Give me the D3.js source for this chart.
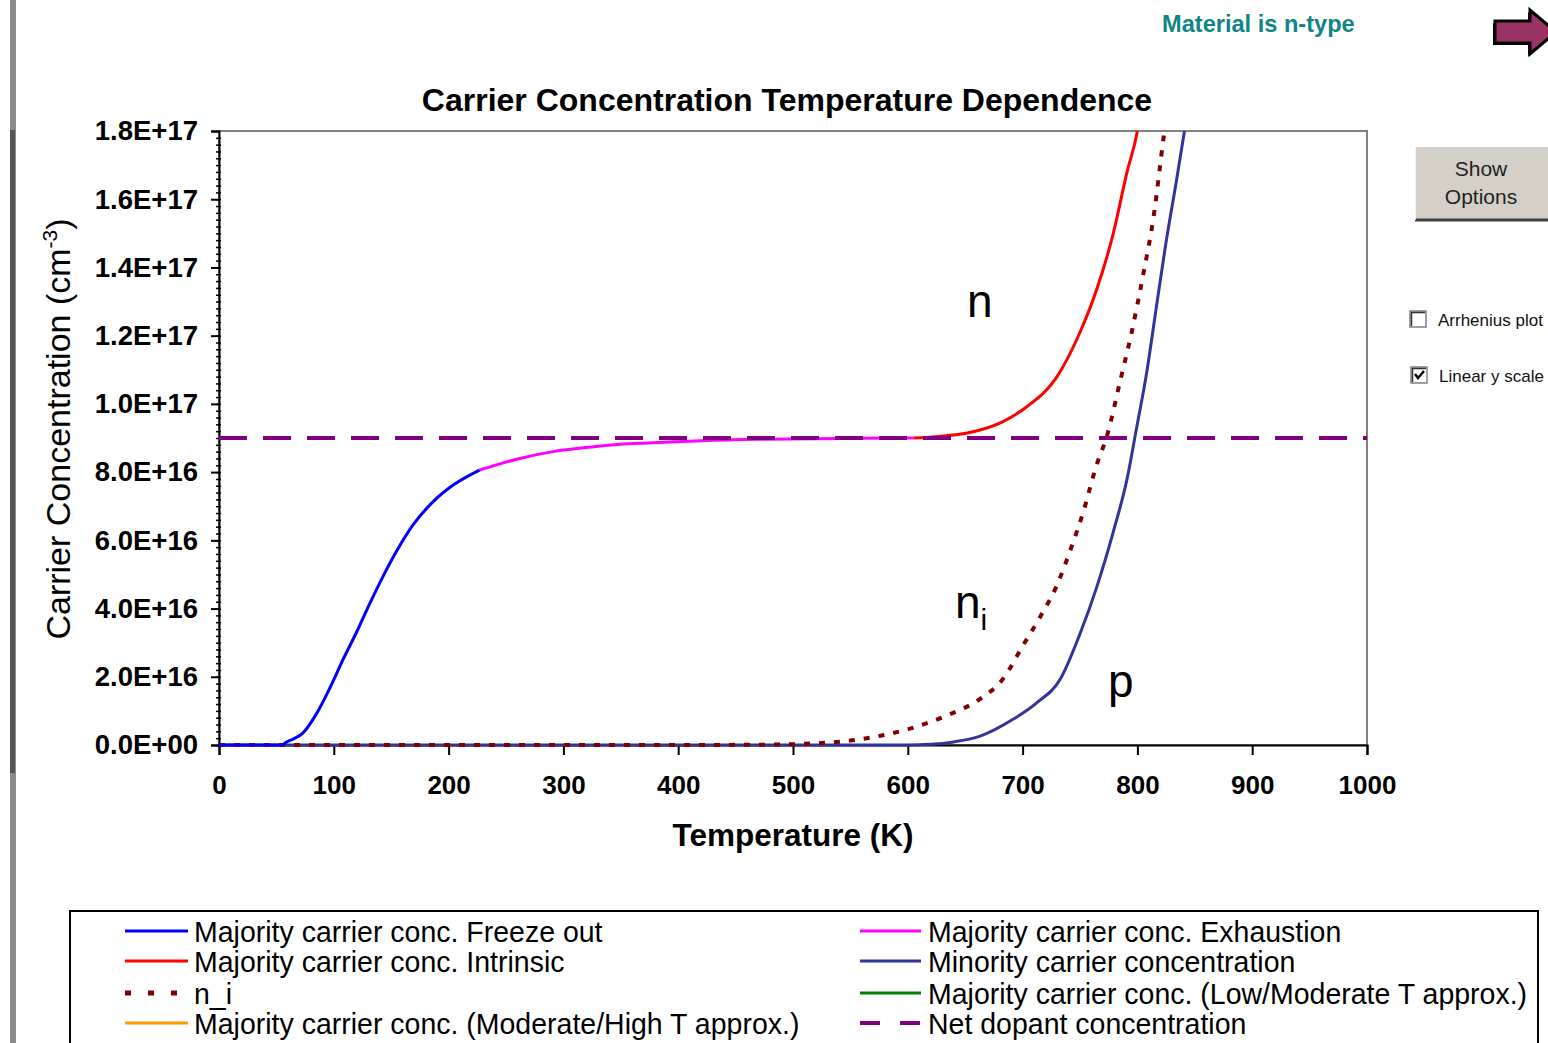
<!DOCTYPE html>
<html>
<head>
<meta charset="utf-8">
<script src="https://cdn.jsdelivr.net/npm/d3@7"></script>
<style>
  body { margin: 0; background: #fff; }
  svg { display: block; font-family: "Liberation Sans", Arial, sans-serif; }
</style>
</head>
<body>
<svg id="chart" width="1548" height="1043"></svg>
<script>
// values (T in K, concentrations in cm^-3)
const freezeT = [0, 20, 40, 55, 58, 65, 73, 85, 97, 108, 120, 131, 143, 155, 169, 187, 204, 227];
const freezeN = [0, 0, 0, 0, 0.7e15, 1.8e15, 3.5e15, 9.2e15, 1.7e16, 2.5e16, 3.32e16, 4.12e16, 4.95e16, 5.7e16, 6.45e16, 7.15e16, 7.62e16, 8.06e16];

const exhaustT = [227, 262, 291, 320, 349, 378, 420, 470, 520, 560, 605];
const exhaustN = [8.06e16, 8.4e16, 8.6e16, 8.72e16, 8.82e16, 8.86e16, 8.92e16, 8.96e16, 8.98e16, 8.99e16, 9.0e16];

const intrinsicT = [605, 625, 654, 683, 703, 730, 750, 764, 779, 791, 800, 810];
const intrinsicN = [9.0e16, 9.04e16, 9.16e16, 9.48e16, 9.9e16, 1.08e17, 1.21e17, 1.33e17, 1.5e17, 1.68e17, 1.8e17, 2.05e17];

const niT = [0, 100, 200, 300, 400, 480, 506, 530, 550, 576, 605, 634, 663, 683, 700, 715, 730, 741, 753, 764, 774, 785, 795, 805, 814, 823, 830];
const niN = [0, 0, 0, 0, 0, 0.1e15, 0.3e15, 0.7e15, 1.3e15, 2.7e15, 5.1e15, 8.65e15, 1.35e16, 1.94e16, 2.9e16, 3.74e16, 4.69e16, 5.66e16, 6.85e16, 8.16e16, 9.12e16, 1.067e17, 1.21e17, 1.378e17, 1.546e17, 1.785e17, 1.95e17];

const minorityT = [0, 200, 400, 600, 620, 640, 663, 692, 712, 733, 750, 764, 779, 791, 799, 808, 817, 825, 834, 841, 850];
const minorityN = [0, 0, 0, 0, 0.2e15, 0.9e15, 2.6e15, 7.6e15, 1.23e16, 1.94e16, 3.26e16, 4.57e16, 6.25e16, 7.8e16, 9.24e16, 1.09e17, 1.295e17, 1.475e17, 1.654e17, 1.8e17, 2.0e17];

const dopantT = [0, 1000];
const dopantN = [9.0e16, 9.0e16];

const xTicks = [0, 100, 200, 300, 400, 500, 600, 700, 800, 900, 1000];
const yTicks = [0, 2e16, 4e16, 6e16, 8e16, 1e17, 1.2e17, 1.4e17, 1.6e17, 1.8e17];

const legendLeft = ["Majority carrier conc. Freeze out", "Majority carrier conc. Intrinsic", "n_i", "Majority carrier conc. (Moderate/High T approx.)"];
const legendRight = ["Majority carrier conc. Exhaustion", "Minority carrier concentration", "Majority carrier conc. (Low/Moderate T approx.)", "Net dopant concentration"];

const svg = d3.select("#chart");

const margin = {left: 219, top: 131, right: 1367, bottom: 745};
const x = d3.scaleLinear().domain([0, 1000]).range([margin.left, margin.right]);
const y = d3.scaleLinear().domain([0, 1.8e17]).range([margin.bottom, margin.top]);

function fmtE(v) {
  const [m, e] = d3.format(".1e")(v).split("e");
  return m + "E" + e[0] + e.slice(1).padStart(2, "0");
}

// window chrome on the left
svg.append("rect").attr("x", 10).attr("y", 0).attr("width", 6).attr("height", 1043).attr("fill", "#8c8c8c");
svg.append("rect").attr("x", 10).attr("y", 130).attr("width", 5).attr("height", 643).attr("fill", "#555");

// top-right status + arrow
svg.append("text").attr("x", 1162).attr("y", 32)
  .attr("font-size", 23.6).attr("font-weight", "bold").attr("fill", "#0f8585")
  .text("Material is n-type");

svg.append("path")
  .attr("d", "M1495,21 L1530,21 L1530,10 L1556,32 L1530,54 L1530,43 L1495,43 Z")
  .attr("fill", "#000").attr("transform", "translate(-2,2)");
svg.append("path")
  .attr("d", "M1495,21 L1530,21 L1530,10 L1556,32 L1530,54 L1530,43 L1495,43 Z")
  .attr("fill", "#993366").attr("stroke", "#000").attr("stroke-width", 3);

// Show Options button
svg.append("rect").attr("x", 1415).attr("y", 147).attr("width", 140).attr("height", 73).attr("fill", "#d4d0c8");
svg.append("line").attr("x1", 1415).attr("x2", 1555).attr("y1", 220).attr("y2", 220).attr("stroke", "#404040").attr("stroke-width", 3);
svg.append("line").attr("x1", 1415).attr("x2", 1415).attr("y1", 147).attr("y2", 220).attr("stroke", "#fff").attr("stroke-width", 1.5);
svg.append("text").attr("x", 1481).attr("y", 176).attr("text-anchor", "middle").attr("font-size", 21).attr("fill", "#222").text("Show");
svg.append("text").attr("x", 1481).attr("y", 204).attr("text-anchor", "middle").attr("font-size", 21).attr("fill", "#222").text("Options");

// checkboxes
function checkbox(bx, by, label, checked) {
  svg.append("rect").attr("x", bx).attr("y", by).attr("width", 16).attr("height", 16)
    .attr("fill", "#fff").attr("stroke", "#808080").attr("stroke-width", 1.5);
  svg.append("path").attr("d", `M${bx + 1.5},${by + 15} L${bx + 1.5},${by + 1.5} L${bx + 15},${by + 1.5}`)
    .attr("fill", "none").attr("stroke", "#333").attr("stroke-width", 1.5);
  if (checked) {
    svg.append("path").attr("d", `M${bx + 4},${by + 7} L${bx + 7},${by + 11} L${bx + 13},${by + 4}`)
      .attr("fill", "none").attr("stroke", "#000").attr("stroke-width", 2.5);
  }
  svg.append("text").attr("x", bx + 28).attr("y", by + 15).attr("font-size", 17).attr("fill", "#111").text(label);
}
checkbox(1410, 311, "Arrhenius plot", false);
checkbox(1411, 367, "Linear y scale", true);

// title
svg.append("text").attr("x", 787).attr("y", 111).attr("text-anchor", "middle")
  .attr("font-size", 32).attr("font-weight", "bold").text("Carrier Concentration Temperature Dependence");

// plot frame
svg.append("rect").attr("x", margin.left).attr("y", margin.top)
  .attr("width", margin.right - margin.left).attr("height", margin.bottom - margin.top)
  .attr("fill", "none").attr("stroke", "#808080").attr("stroke-width", 2);

// y minor ticks
svg.append("g").attr("transform", `translate(${margin.left + 2},0)`)
  .call(d3.axisLeft(y).tickValues(d3.range(0, 1.8e17 + 1, 2e15)).tickSize(5).tickFormat(""))
  .call(g => g.select(".domain").remove())
  .call(g => g.selectAll("line").attr("stroke", "#000").attr("stroke-width", 1.5));

// y axis
svg.append("g").attr("transform", `translate(${margin.left},0)`)
  .call(d3.axisLeft(y).tickValues(yTicks).tickSize(8).tickPadding(13).tickFormat(fmtE))
  .call(g => g.select(".domain").attr("stroke", "#000").attr("stroke-width", 2))
  .call(g => g.selectAll("line").attr("stroke-width", 2))
  .call(g => g.selectAll("text").attr("font-size", 27.5).attr("font-weight", "bold")
    .attr("font-family", "Liberation Sans, Arial, sans-serif").attr("fill", "#000"));

// x axis
svg.append("g").attr("transform", `translate(0,${margin.bottom})`)
  .call(d3.axisBottom(x).tickValues(xTicks).tickSize(10).tickPadding(21).tickFormat(d3.format("d")))
  .call(g => g.select(".domain").attr("stroke", "#000").attr("stroke-width", 2))
  .call(g => g.selectAll("line").attr("stroke-width", 2))
  .call(g => g.selectAll("text").attr("font-size", 26).attr("font-weight", "bold")
    .attr("font-family", "Liberation Sans, Arial, sans-serif").attr("fill", "#000"));

// axis titles
svg.append("text").attr("x", 793).attr("y", 846).attr("text-anchor", "middle")
  .attr("font-size", 31.5).attr("font-weight", "bold").text("Temperature (K)");

const yl = svg.append("text").attr("transform", "translate(70,429) rotate(-90)")
  .attr("text-anchor", "middle").attr("font-size", 34);
yl.append("tspan").text("Carrier Concentration (cm");
yl.append("tspan").attr("font-size", 21).attr("dy", -13).text("-3");
yl.append("tspan").attr("dy", 13).text(")");

// curves
svg.append("clipPath").attr("id", "plotclip").append("rect")
  .attr("x", margin.left).attr("y", margin.top)
  .attr("width", margin.right - margin.left).attr("height", margin.bottom - margin.top + 2);

const plot = svg.append("g").attr("clip-path", "url(#plotclip)");
const line = d3.line().x(d => x(d[0])).y(d => y(d[1])).curve(d3.curveMonotoneX);

const series = [
  {T: minorityT, N: minorityN, color: "#333399", dash: null},
  {T: niT, N: niN, color: "#800000", dash: "6,9", width: 4},
  {T: freezeT, N: freezeN, color: "#0000ff", dash: null},
  {T: exhaustT, N: exhaustN, color: "#ff00ff", dash: null},
  {T: intrinsicT, N: intrinsicN, color: "#ff0000", dash: null},
  {T: dopantT, N: dopantN, color: "#800080", dash: "28,16", width: 4}
];

series.forEach(s => {
  plot.append("path")
    .datum(d3.zip(s.T, s.N))
    .attr("fill", "none")
    .attr("stroke", s.color)
    .attr("stroke-width", s.width || 3)
    .attr("stroke-dasharray", s.dash)
    .attr("d", line);
});

// curve annotations
svg.append("text").attr("x", 967).attr("y", 317).attr("font-size", 46).text("n");
const niLab = svg.append("text").attr("x", 955).attr("y", 618).attr("font-size", 46);
niLab.append("tspan").text("n");
niLab.append("tspan").attr("font-size", 30).attr("dy", 12).text("i");
svg.append("text").attr("x", 1108).attr("y", 697).attr("font-size", 46).text("p");

// legend
svg.append("rect").attr("x", 70).attr("y", 911).attr("width", 1468).attr("height", 150)
  .attr("fill", "#fff").attr("stroke", "#000").attr("stroke-width", 2);

const leftStyle = [
  {color: "#0000ff", dash: null},
  {color: "#ff0000", dash: null},
  {color: "#800000", dash: "6,17", width: 5},
  {color: "#ff9900", dash: null}
];
const rightStyle = [
  {color: "#ff00ff", dash: null},
  {color: "#333399", dash: null},
  {color: "#008000", dash: null},
  {color: "#800080", dash: "20,20", width: 4}
];
const rowY = [931, 961, 993, 1023];

function legendColumn(labels, styles, lx1, lx2, tx) {
  labels.forEach((lab, i) => {
    const st = styles[i];
    svg.append("line").attr("x1", lx1).attr("x2", lx2).attr("y1", rowY[i]).attr("y2", rowY[i])
      .attr("stroke", st.color).attr("stroke-width", st.width || 3).attr("stroke-dasharray", st.dash);
    svg.append("text").attr("transform", `translate(${tx},${rowY[i] + 11}) scale(0.95,1)`)
      .attr("font-size", 30).attr("fill", "#000").text(lab);
  });
}
legendColumn(legendLeft, leftStyle, 125, 188, 194);
legendColumn(legendRight, rightStyle, 860, 921, 928);
</script>
</body>
</html>
